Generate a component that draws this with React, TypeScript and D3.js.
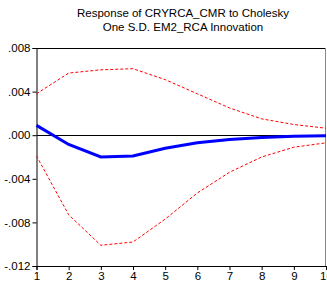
import React, { useEffect, useRef } from "react";
import * as d3 from "d3";

const periods = [1, 2, 3, 4, 5, 6, 7, 8, 9, 10];
const response = [0.0009, -0.00085, -0.002, -0.0019, -0.0012, -0.0007, -0.0004, -0.0002, -0.0001, -0.00005];
const upperBand = [0.0038, 0.0057, 0.006, 0.0061, 0.0051, 0.0038, 0.0025, 0.0015, 0.00098, 0.00064];
const lowerBand = [-0.0019, -0.0073, -0.0101, -0.0098, -0.0077, -0.0053, -0.0034, -0.002, -0.0011, -0.0007];
const yTicks = [0.008, 0.004, 0.0, -0.004, -0.008, -0.012];
const titleLines = ["Response of CRYRCA_CMR to Cholesky", "One S.D. EM2_RCA Innovation"];

export default function App() {
  const ref = useRef<SVGSVGElement>(null);

  useEffect(() => {
    const svg = d3.select(ref.current);
    svg.selectAll("*").remove();

    const left = 36.5, right = 326, top = 48, bottom = 266;

    const x = d3.scaleLinear().domain([1, 10]).range([left, right]);
    const y = d3.scaleLinear().domain([-0.012, 0.008]).range([bottom, top]);

    const font = "'Liberation Sans', Arial, sans-serif";

    // title
    svg.append("g")
      .selectAll("text")
      .data(titleLines)
      .join("text")
      .attr("x", 183)
      .attr("y", (d, i) => 17 + i * 14)
      .attr("text-anchor", "middle")
      .attr("font-family", font)
      .attr("font-size", 11.5)
      .attr("fill", "#000")
      .text((d) => d);

    // frame
    svg.append("line").attr("x1", left).attr("x2", right).attr("y1", top + 0.5).attr("y2", top + 0.5).attr("stroke", "#000");
    svg.append("line").attr("x1", right - 0.5).attr("x2", right - 0.5).attr("y1", top).attr("y2", bottom).attr("stroke", "#888");

    // zero line
    svg.append("line")
      .attr("x1", left).attr("x2", right)
      .attr("y1", Math.round(y(0)) + 0.5).attr("y2", Math.round(y(0)) + 0.5)
      .attr("stroke", "#000");

    const fmt = (v: number) => {
      const s = d3.format(".3f")(Math.abs(v)).replace(/^0/, "");
      return v < 0 ? "-" + s : s;
    };

    const yAxis = svg.append("g")
      .attr("transform", `translate(${left},0)`)
      .call(d3.axisLeft(y).tickValues(yTicks).tickSize(4).tickPadding(2).tickFormat((d) => fmt(+d)));
    yAxis.selectAll("text").attr("font-family", font).attr("font-size", 11.5).attr("fill", "#000");
    yAxis.select(".domain").attr("stroke", "#000");

    const xAxis = svg.append("g")
      .attr("transform", `translate(0,${bottom})`)
      .call(d3.axisBottom(x).tickValues(periods).tickSize(4).tickPadding(2).tickFormat(d3.format("d")));
    xAxis.selectAll("text").attr("font-family", font).attr("font-size", 11.5).attr("fill", "#000");
    xAxis.select(".domain").attr("stroke", "#000");

    const line = d3.line<number>()
      .x((d, i) => x(periods[i]))
      .y((d) => y(d));

    svg.append("path").datum(upperBand).attr("d", line).attr("fill", "none")
      .attr("stroke", "#ff0000").attr("stroke-width", 1).attr("stroke-dasharray", "3,2");
    svg.append("path").datum(lowerBand).attr("d", line).attr("fill", "none")
      .attr("stroke", "#ff0000").attr("stroke-width", 1).attr("stroke-dasharray", "3,2");
    svg.append("path").datum(response).attr("d", line).attr("fill", "none")
      .attr("stroke", "#0000ff").attr("stroke-width", 3);
  }, []);

  return (
    <svg ref={ref} width={327} height={288}
      style={{ position: "absolute", left: 0, top: 0, background: "#fff" }} />
  );
}
